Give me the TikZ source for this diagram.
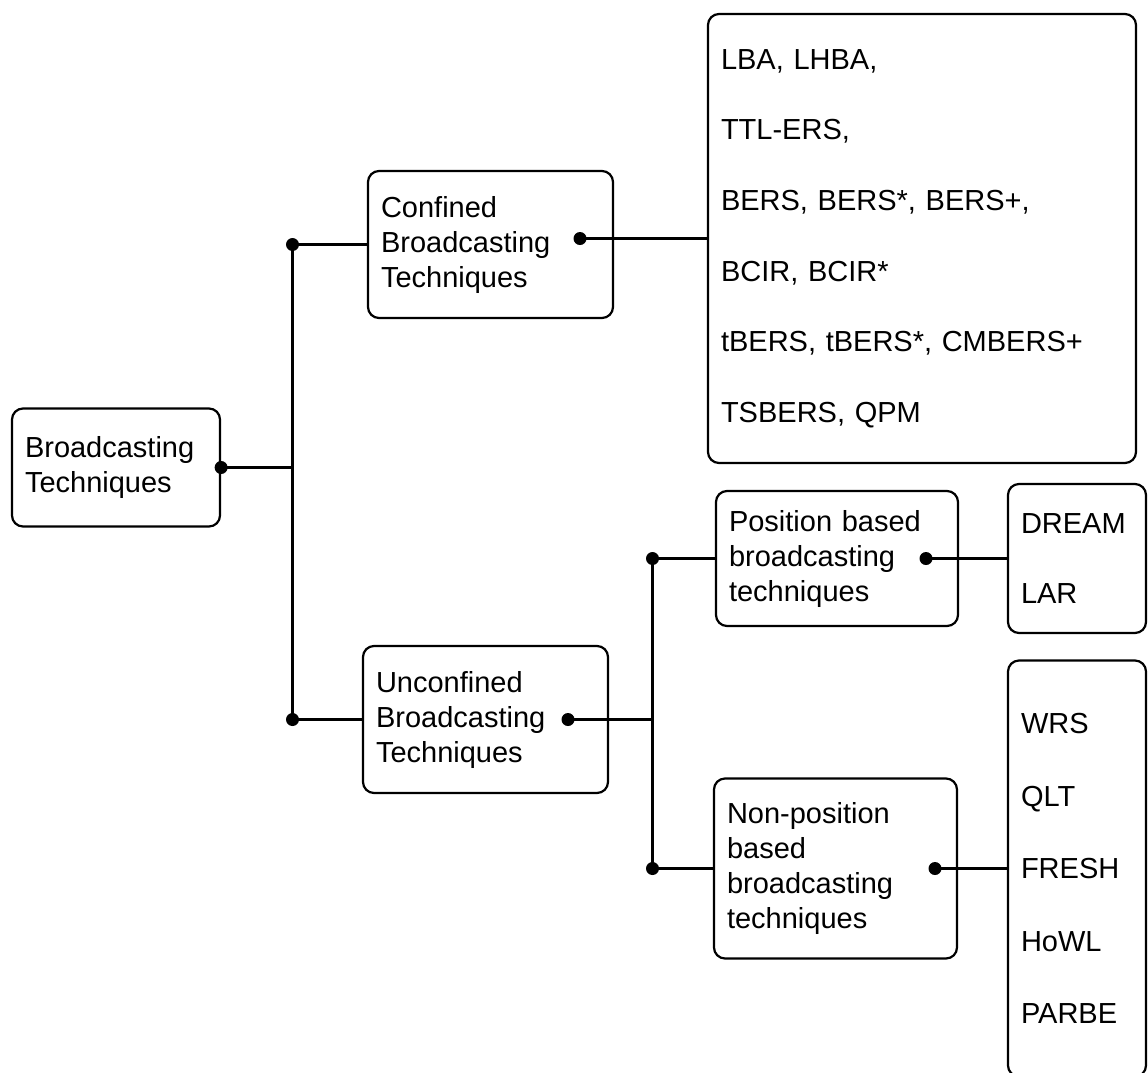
\documentclass[tikz,border=0pt]{standalone}
\usepackage{fontspec}
\setmainfont{Liberation Sans}
\begin{document}
\begin{tikzpicture}[x=1pt,y=-1pt,
  box/.style={draw,line width=2.2pt,rounded corners=11pt,align=left,inner ysep=0pt,inner xsep=13pt,
    font=\fontsize{29}{35}\selectfont},
  conn/.style={line width=2.5pt},
  dot/.style={fill=black}]
\useasboundingbox (0,0) rectangle (1148,1072);
\clip (0,0) rectangle (1148,1072);
\node[box,minimum width=208pt,minimum height=118pt,text width=182pt] (root) at (116,467.5) {Broadcasting\\Techniques};
\node[box,minimum width=245pt,minimum height=147pt,text width=219pt] (conf) at (490.5,244.5) {Confined\\Broadcasting\\Techniques};
\node[box,minimum width=428pt,minimum height=449pt,text width=402pt,font=\fontsize{29}{70.6}\selectfont] (big) at (922,238.5)
  {LBA, LHBA,\\TTL-ERS,\\BERS, BERS*, BERS+,\\BCIR, BCIR*\\tBERS, tBERS*, CMBERS+\\TSBERS, QPM};
\node[box,minimum width=245pt,minimum height=147pt,text width=219pt] (unc) at (485.5,719.5) {Unconfined\\Broadcasting\\Techniques};
\node[box,minimum width=242pt,minimum height=135pt,text width=216pt] (pos) at (837,558.5) {Position based\\broadcasting\\techniques};
\node[box,minimum width=243pt,minimum height=180pt,text width=217pt] (non) at (835.5,868.5) {Non-position\\based\\broadcasting\\techniques};
\node[box,minimum width=138pt,minimum height=149pt,text width=112pt,font=\fontsize{29}{70}\selectfont] (dr) at (1077,558.5) {DREAM\\LAR};
\node[box,minimum width=138pt,minimum height=416pt,text width=112pt,font=\fontsize{29}{72.5}\selectfont] (wrs) at (1077,868.5) {WRS\\QLT\\FRESH\\HoWL\\PARBE};
% junction coordinates
\coordinate (j1m) at (292.5,467.5);
\coordinate (j1t) at (292.5,244.5);
\coordinate (j1b) at (292.5,719.5);
\coordinate (cdot) at (580,238.5);
\coordinate (udot) at (568,719.5);
\coordinate (j2m) at (652.5,719.5);
\coordinate (j2t) at (652.5,558.5);
\coordinate (j2b) at (652.5,868.5);
\coordinate (pdot) at (926,558.5);
\coordinate (ndot) at (935,868.5);
% connectors
\draw[conn] (root.east) -- (j1m);
\draw[conn] (j1t) -- (j1b);
\draw[conn] (j1t) -- (conf.west);
\draw[conn] (j1b) -- (unc.west);
\draw[conn] (cdot) -- (big.west);
\draw[conn] (udot) -- (j2m);
\draw[conn] (j2t) -- (j2b);
\draw[conn] (j2t) -- (pos.west);
\draw[conn] (j2b) -- (non.west);
\draw[conn] (pdot) -- (dr.west);
\draw[conn] (ndot) -- (wrs.west);
% dots
\foreach \p in {root.east,j1t,j1b,cdot,udot,j2t,j2b,pdot,ndot}
  \fill[dot] (\p) circle (6.5pt);
\end{tikzpicture}
\end{document}
